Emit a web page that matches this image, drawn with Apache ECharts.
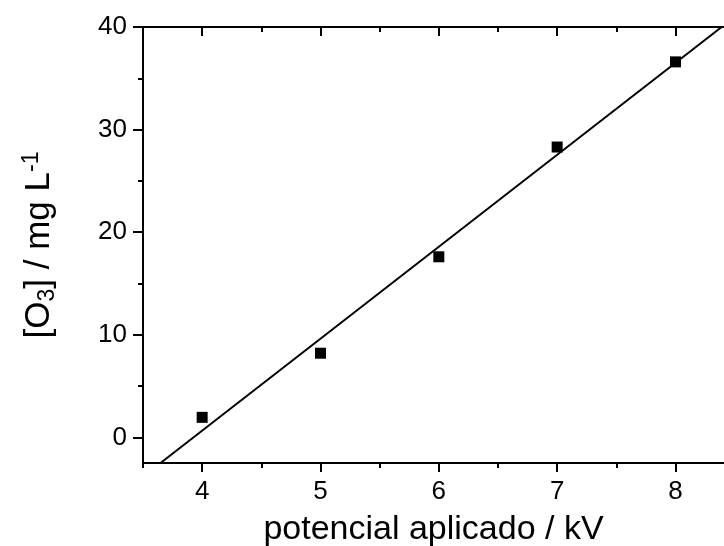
<!DOCTYPE html>
<html>
<head>
<meta charset="utf-8">
<script src="https://cdn.jsdelivr.net/npm/echarts@6/dist/echarts.min.js"></script>
<style>
  html, body { margin: 0; padding: 0; background: #fff; }
  #chart { width: 724px; height: 546px; }
</style>
</head>
<body>
<div id="chart"></div>
<script>
// measured points
var voltage = [4, 5, 6, 7, 8];
var ozone = [1.95, 8.2, 17.6, 28.3, 36.6];

// linear fit, endpoints
var fitX = [3.648, 8.39];
var fitY = [-2.5, 40];

// ticks
var xMajor = [4, 5, 6, 7, 8];
var xMinor = [3.5, 4.5, 5.5, 6.5, 7.5];
var yMajor = [0, 10, 20, 30, 40];
var yMinor = [5, 15, 25, 35];

var font = 'Liberation Sans, Arial, sans-serif';
var black = '#000';
var xMax = 8.41; // picture is cut off just before 8.5

var pts = voltage.map(function (v, i) { return [v, ozone[i]]; });
var fit = fitX.map(function (v, i) { return [v, fitY[i]]; });

function xAx(pos, ticks, len, inside, labels, line) {
	return {
		type: 'value', position: pos, offset: 0, min: 3.5, max: xMax,
		splitLine: { show: false },
		axisLine: { show: line, onZero: false, lineStyle: { color: black, width: 2 } },
		axisTick: { show: true, inside: inside, length: len, customValues: ticks, lineStyle: { color: black, width: 2 } },
		axisLabel: labels ? { show: true, customValues: ticks, color: black, fontFamily: font, fontSize: 26, margin: 16 } : { show: false }
	};
}

function yAx(ticks, len, labels, line) {
	return {
		type: 'value', position: 'left', offset: 0, min: -2.5, max: 40,
		splitLine: { show: false },
		axisLine: { show: line, onZero: false, lineStyle: { color: black, width: 2 } },
		axisTick: { show: true, inside: false, length: len, customValues: ticks, lineStyle: { color: black, width: 2 } },
		axisLabel: labels ? { show: true, customValues: ticks, color: black, fontFamily: font, fontSize: 26, margin: 16 } : { show: false }
	};
}

var myChart = echarts.init(document.getElementById('chart'));
var xMain = xAx('bottom', xMajor, 9, false, true, true);
xMain.name = 'potencial aplicado / kV';
xMain.nameLocation = 'middle';
xMain.nameGap = 50;
xMain.nameTextStyle = { color: black, fontFamily: font, fontSize: 34 };

var yMain = yAx(yMajor, 10, true, true);
yMain.name = '[O{sub|3}] / mg L{sup|-1}';
yMain.nameLocation = 'middle';
yMain.nameGap = 84;
yMain.nameTextStyle = {
	color: black, fontFamily: font, fontSize: 35,
	rich: {
		sub: { fontFamily: font, fontSize: 23, color: black, verticalAlign: 'bottom', padding: [14, 0, 0, 0] },
		sup: { fontFamily: font, fontSize: 23, color: black, verticalAlign: 'top', padding: [0, 0, 16, 0] }
	}
};

var option = {
	animation: false,
	backgroundColor: '#fff',
	grid: { left: 143, top: 27, right: 0, bottom: 83, containLabel: false, outerBoundsMode: 'none' },
	xAxis: [
		xMain,
		xAx('bottom', xMinor, 5, false, false, false),
		xAx('top', xMajor, 9, true, false, true),
		xAx('top', xMinor.slice(1), 5, true, false, false)
	],
	yAxis: [
		yMain,
		yAx(yMinor, 5, false, false)
	],
	series: [
		{
			type: 'line', data: fit, xAxisIndex: 0, yAxisIndex: 0,
			symbol: 'none', lineStyle: { color: black, width: 2 }, z: 2
		},
		{
			type: 'scatter', data: pts, xAxisIndex: 0, yAxisIndex: 0,
			symbol: 'rect', symbolSize: 11, itemStyle: { color: black, opacity: 1 }, z: 3
		}
	]
};
myChart.setOption(option);
</script>
</body>
</html>
